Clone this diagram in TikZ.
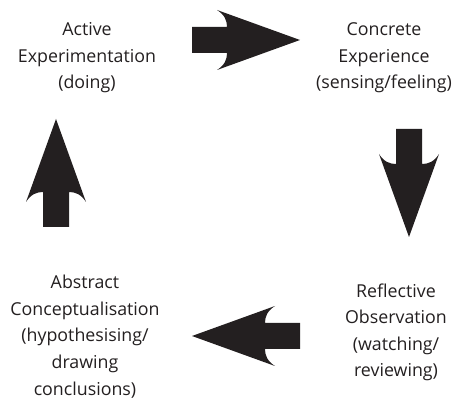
\documentclass[tikz,border=0pt]{standalone}
\usepackage{fontspec}
\setmainfont{Open Sans}
\definecolor{inkblack}{HTML}{231F20}
\tikzset{
  stage/.style={align=center, anchor=base, inner sep=0pt, text=inkblack,
    font=\fontsize{17.8}{26.5}\selectfont},
  fatarrow/.style={fill=inkblack, draw=none}
}
\begin{document}
\begin{tikzpicture}[x=1pt,y=1pt]
    \useasboundingbox (0,0) rectangle (457,401);

    % The four stages of the cycle (placed by the baseline of their last line)
    \node[stage] (active) at (87,312) {Active\\Experimentation\\(doing)};
    \node[stage] (concrete) at (384,312) {Concrete\\Experience\\(sensing/feeling)};
    \node[stage] (reflective) at (396,24) {Reflective\\Observation\\(watching/\\reviewing)};
    \node[stage] (abstract) at (85,6) {Abstract\\Conceptualisation\\(hypothesising/\\drawing\\conclusions)};

    % Block arrows going round: tip x / tip y / direction
    \foreach \tipx/\tipy/\dir in {300/361/0, 409/164/-90, 192/65/180, 56/282/90} {
        \fill[fatarrow, shift={(\tipx,\tipy)}, rotate=\dir]
            (0,0) -- (-83,30) .. controls (-75,25) and (-73,19) .. (-73,13)
            -- (-108,13) -- (-108,-13) -- (-73,-13)
            .. controls (-73,-19) and (-75,-25) .. (-83,-30) -- cycle;
    }

\end{tikzpicture}
\end{document}
